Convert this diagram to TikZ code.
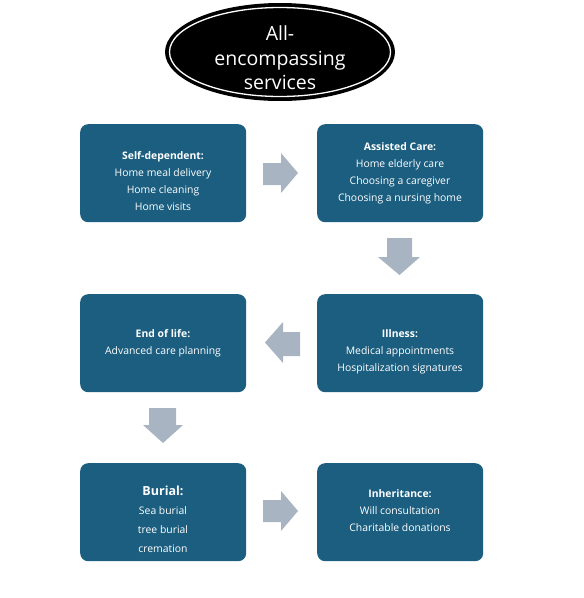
\documentclass[tikz,border=0pt]{standalone}
\usepackage{fontspec}
\setmainfont{Open Sans}
\definecolor{boxblue}{HTML}{1B5E80}
\definecolor{arrowgray}{HTML}{A9B4C2}
\begin{document}
\begin{tikzpicture}[x=1pt,y=-1pt,
  stepbox/.style={fill=boxblue, rounded corners=8pt, minimum width=166pt, minimum height=98pt, inner sep=0pt, anchor=north west},
  boxtext/.style={text=white, align=center, font=\fontsize{10.4}{17}\selectfont, anchor=north, inner sep=0pt},
  blockarrow/.style={fill=arrowgray, draw=none}]
\useasboundingbox (0,0) rectangle (584,598);
% title ellipse
\fill[black] (280,52) ellipse [x radius=115, y radius=49];
\draw[white, line width=1.3pt] (280,52) ellipse [x radius=110.5, y radius=44.5];
\node[text=white, align=center, font=\fontsize{19.5}{24.5}\selectfont, inner sep=0pt] (title) at (280,58) {All-\\encompassing\\services};
% boxes
\node[stepbox] (b1) at (80,124) {};
\node[stepbox] (b2) at (317,124) {};
\node[stepbox] (b3) at (80,294) {};
\node[stepbox] (b4) at (317,294) {};
\node[stepbox] (b5) at (80,463) {};
\node[stepbox] (b6) at (317,463) {};
% texts
\node[boxtext] (t1) at (163,151.5) {\textbf{Self-dependent:}\\Home meal delivery\\Home cleaning\\Home visits};
\node[boxtext] (t2) at (400,142.5) {\textbf{Assisted Care:}\\Home elderly care\\Choosing a caregiver\\Choosing a nursing home};
\node[boxtext] (t3) at (163,329.5) {\textbf{End of life:}\\Advanced care planning};
\node[boxtext] (t4) at (400,329.5) {\textbf{Illness:}\\Medical appointments\\Hospitalization signatures};
\node[boxtext, font=\fontsize{10.4}{19}\selectfont] (t5) at (163,486) {{\fontsize{12.5}{19}\selectfont\textbf{Burial:}}\\Sea burial\\tree burial\\cremation};
\node[boxtext] (t6) at (400,489.5) {\textbf{Inheritance:}\\Will consultation\\Charitable donations};
% block arrows
\fill[blockarrow] (263,163) -- (281,163) -- (281,153) -- (298,173) -- (281,193) -- (281,185) -- (263,185) -- cycle;
\fill[blockarrow] (387,238) -- (412,238) -- (412,257) -- (420,257) -- (399.5,275) -- (378,257) -- (387,257) -- cycle;
\fill[blockarrow] (300,332) -- (283,332) -- (283,322) -- (265,342.5) -- (283,363) -- (283,356) -- (300,356) -- cycle;
\fill[blockarrow] (149,408) -- (176,408) -- (176,425) -- (183,425) -- (163,443) -- (143,425) -- (149,425) -- cycle;
\fill[blockarrow] (263,500) -- (281,500) -- (281,491) -- (298,511) -- (281,531) -- (281,522) -- (263,522) -- cycle;
\end{tikzpicture}
\end{document}
